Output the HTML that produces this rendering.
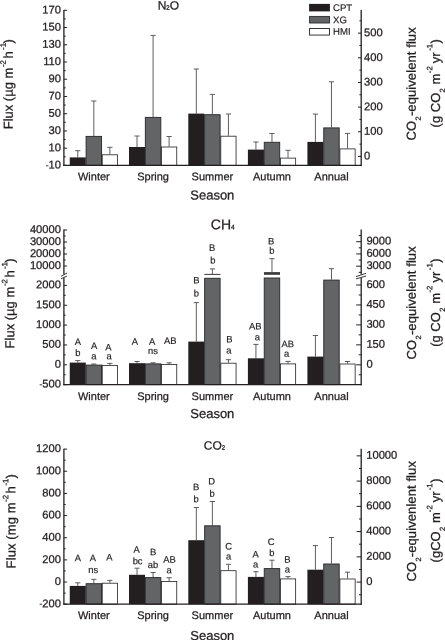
<!DOCTYPE html>
<html><head><meta charset="utf-8"><title>Flux by season</title>
<style>html,body{margin:0;padding:0;background:#fff;}body{width:445px;height:640px;overflow:hidden;font-family:"Liberation Sans", sans-serif;}svg{display:block;will-change:transform;}</style>
</head><body>
<svg width="445" height="640" viewBox="0 0 445 640" font-family='"Liberation Sans", sans-serif' fill="#231f20"><style>text{stroke:#231f20;stroke-width:0.26px;}text.s{stroke-width:0.18px;}</style>
<rect x="0.00" y="0.00" width="445.00" height="640.00" fill="#ffffff"/>
<line x1="77.78" y1="157.40" x2="77.78" y2="150.70" stroke="#4d4d4f" stroke-width="0.9"/>
<line x1="75.18" y1="150.70" x2="80.38" y2="150.70" stroke="#4d4d4f" stroke-width="0.9"/>
<rect x="69.75" y="157.40" width="16.05" height="8.00" fill="#231f20"/>
<line x1="93.83" y1="136.00" x2="93.83" y2="101.00" stroke="#4d4d4f" stroke-width="0.9"/>
<line x1="91.23" y1="101.00" x2="96.42" y2="101.00" stroke="#4d4d4f" stroke-width="0.9"/>
<rect x="86.10" y="136.40" width="15.45" height="29.00" fill="#636466" stroke="#2b2b2d" stroke-width="0.95"/>
<line x1="109.88" y1="154.40" x2="109.88" y2="147.30" stroke="#4d4d4f" stroke-width="0.9"/>
<line x1="107.28" y1="147.30" x2="112.47" y2="147.30" stroke="#4d4d4f" stroke-width="0.9"/>
<rect x="102.25" y="154.80" width="15.25" height="10.60" fill="#ffffff" stroke="#231f20" stroke-width="0.8"/>
<line x1="137.03" y1="147.00" x2="137.03" y2="136.00" stroke="#4d4d4f" stroke-width="0.9"/>
<line x1="134.43" y1="136.00" x2="139.62" y2="136.00" stroke="#4d4d4f" stroke-width="0.9"/>
<rect x="129.00" y="147.00" width="16.05" height="18.40" fill="#231f20"/>
<line x1="153.08" y1="117.00" x2="153.08" y2="35.40" stroke="#4d4d4f" stroke-width="0.9"/>
<line x1="150.48" y1="35.40" x2="155.68" y2="35.40" stroke="#4d4d4f" stroke-width="0.9"/>
<rect x="145.35" y="117.40" width="15.45" height="48.00" fill="#636466" stroke="#2b2b2d" stroke-width="0.95"/>
<line x1="169.12" y1="146.60" x2="169.12" y2="136.50" stroke="#4d4d4f" stroke-width="0.9"/>
<line x1="166.53" y1="136.50" x2="171.72" y2="136.50" stroke="#4d4d4f" stroke-width="0.9"/>
<rect x="161.50" y="147.00" width="15.25" height="18.40" fill="#ffffff" stroke="#231f20" stroke-width="0.8"/>
<line x1="196.33" y1="113.60" x2="196.33" y2="69.00" stroke="#4d4d4f" stroke-width="0.9"/>
<line x1="193.73" y1="69.00" x2="198.93" y2="69.00" stroke="#4d4d4f" stroke-width="0.9"/>
<rect x="188.30" y="113.60" width="16.05" height="51.80" fill="#231f20"/>
<line x1="212.38" y1="114.30" x2="212.38" y2="94.40" stroke="#4d4d4f" stroke-width="0.9"/>
<line x1="209.78" y1="94.40" x2="214.98" y2="94.40" stroke="#4d4d4f" stroke-width="0.9"/>
<rect x="204.65" y="114.70" width="15.45" height="50.70" fill="#636466" stroke="#2b2b2d" stroke-width="0.95"/>
<line x1="228.43" y1="135.80" x2="228.43" y2="114.00" stroke="#4d4d4f" stroke-width="0.9"/>
<line x1="225.83" y1="114.00" x2="231.03" y2="114.00" stroke="#4d4d4f" stroke-width="0.9"/>
<rect x="220.80" y="136.20" width="15.25" height="29.20" fill="#ffffff" stroke="#231f20" stroke-width="0.8"/>
<line x1="255.93" y1="149.60" x2="255.93" y2="142.00" stroke="#4d4d4f" stroke-width="0.9"/>
<line x1="253.33" y1="142.00" x2="258.53" y2="142.00" stroke="#4d4d4f" stroke-width="0.9"/>
<rect x="247.90" y="149.60" width="16.05" height="15.80" fill="#231f20"/>
<line x1="271.97" y1="141.90" x2="271.97" y2="133.50" stroke="#4d4d4f" stroke-width="0.9"/>
<line x1="269.37" y1="133.50" x2="274.57" y2="133.50" stroke="#4d4d4f" stroke-width="0.9"/>
<rect x="264.25" y="142.30" width="15.45" height="23.10" fill="#636466" stroke="#2b2b2d" stroke-width="0.95"/>
<line x1="288.02" y1="157.70" x2="288.02" y2="150.30" stroke="#4d4d4f" stroke-width="0.9"/>
<line x1="285.42" y1="150.30" x2="290.62" y2="150.30" stroke="#4d4d4f" stroke-width="0.9"/>
<rect x="280.40" y="158.10" width="15.25" height="7.30" fill="#ffffff" stroke="#231f20" stroke-width="0.8"/>
<line x1="315.42" y1="141.90" x2="315.42" y2="114.10" stroke="#4d4d4f" stroke-width="0.9"/>
<line x1="312.82" y1="114.10" x2="318.02" y2="114.10" stroke="#4d4d4f" stroke-width="0.9"/>
<rect x="307.40" y="141.90" width="16.05" height="23.50" fill="#231f20"/>
<line x1="331.47" y1="127.50" x2="331.47" y2="81.80" stroke="#4d4d4f" stroke-width="0.9"/>
<line x1="328.87" y1="81.80" x2="334.07" y2="81.80" stroke="#4d4d4f" stroke-width="0.9"/>
<rect x="323.75" y="127.90" width="15.45" height="37.50" fill="#636466" stroke="#2b2b2d" stroke-width="0.95"/>
<line x1="347.52" y1="148.50" x2="347.52" y2="133.40" stroke="#4d4d4f" stroke-width="0.9"/>
<line x1="344.92" y1="133.40" x2="350.12" y2="133.40" stroke="#4d4d4f" stroke-width="0.9"/>
<rect x="339.90" y="148.90" width="15.25" height="16.50" fill="#ffffff" stroke="#231f20" stroke-width="0.8"/>
<line x1="63.90" y1="10.00" x2="63.90" y2="166.00" stroke="#231f20" stroke-width="1.3"/>
<line x1="361.20" y1="10.00" x2="361.20" y2="166.00" stroke="#231f20" stroke-width="1.3"/>
<line x1="63.30" y1="165.40" x2="361.80" y2="165.40" stroke="#231f20" stroke-width="1.3"/>
<line x1="63.90" y1="10.30" x2="67.10" y2="10.30" stroke="#231f20" stroke-width="1"/>
<text transform="translate(61.00,13.40) rotate(0.03)" font-size="11.2" text-anchor="end" >170</text>
<line x1="63.90" y1="27.53" x2="67.10" y2="27.53" stroke="#231f20" stroke-width="1"/>
<text transform="translate(61.00,30.63) rotate(0.03)" font-size="11.2" text-anchor="end" >150</text>
<line x1="63.90" y1="44.77" x2="67.10" y2="44.77" stroke="#231f20" stroke-width="1"/>
<text transform="translate(61.00,47.87) rotate(0.03)" font-size="11.2" text-anchor="end" >130</text>
<line x1="63.90" y1="62.00" x2="67.10" y2="62.00" stroke="#231f20" stroke-width="1"/>
<text transform="translate(61.00,65.10) rotate(0.03)" font-size="11.2" text-anchor="end" >110</text>
<line x1="63.90" y1="79.23" x2="67.10" y2="79.23" stroke="#231f20" stroke-width="1"/>
<text transform="translate(61.00,82.33) rotate(0.03)" font-size="11.2" text-anchor="end" >90</text>
<line x1="63.90" y1="96.47" x2="67.10" y2="96.47" stroke="#231f20" stroke-width="1"/>
<text transform="translate(61.00,99.57) rotate(0.03)" font-size="11.2" text-anchor="end" >70</text>
<line x1="63.90" y1="113.70" x2="67.10" y2="113.70" stroke="#231f20" stroke-width="1"/>
<text transform="translate(61.00,116.80) rotate(0.03)" font-size="11.2" text-anchor="end" >50</text>
<line x1="63.90" y1="130.93" x2="67.10" y2="130.93" stroke="#231f20" stroke-width="1"/>
<text transform="translate(61.00,134.03) rotate(0.03)" font-size="11.2" text-anchor="end" >30</text>
<line x1="63.90" y1="148.17" x2="67.10" y2="148.17" stroke="#231f20" stroke-width="1"/>
<text transform="translate(61.00,151.27) rotate(0.03)" font-size="11.2" text-anchor="end" >10</text>
<line x1="63.90" y1="165.40" x2="67.10" y2="165.40" stroke="#231f20" stroke-width="1"/>
<text transform="translate(61.00,168.50) rotate(0.03)" font-size="11.2" text-anchor="end" ><tspan font-size="8.5" dy="-0.6">-</tspan><tspan dy="0.6">10</tspan></text>
<line x1="63.90" y1="18.92" x2="65.70" y2="18.92" stroke="#231f20" stroke-width="1"/>
<line x1="63.90" y1="36.15" x2="65.70" y2="36.15" stroke="#231f20" stroke-width="1"/>
<line x1="63.90" y1="53.38" x2="65.70" y2="53.38" stroke="#231f20" stroke-width="1"/>
<line x1="63.90" y1="70.62" x2="65.70" y2="70.62" stroke="#231f20" stroke-width="1"/>
<line x1="63.90" y1="87.85" x2="65.70" y2="87.85" stroke="#231f20" stroke-width="1"/>
<line x1="63.90" y1="105.08" x2="65.70" y2="105.08" stroke="#231f20" stroke-width="1"/>
<line x1="63.90" y1="122.32" x2="65.70" y2="122.32" stroke="#231f20" stroke-width="1"/>
<line x1="63.90" y1="139.55" x2="65.70" y2="139.55" stroke="#231f20" stroke-width="1"/>
<line x1="63.90" y1="156.78" x2="65.70" y2="156.78" stroke="#231f20" stroke-width="1"/>
<line x1="358.00" y1="156.40" x2="361.20" y2="156.40" stroke="#231f20" stroke-width="1"/>
<text transform="translate(364.00,159.50) rotate(0.03)" font-size="11.2" text-anchor="start" >0</text>
<line x1="358.00" y1="131.75" x2="361.20" y2="131.75" stroke="#231f20" stroke-width="1"/>
<text transform="translate(364.00,134.85) rotate(0.03)" font-size="11.2" text-anchor="start" >100</text>
<line x1="358.00" y1="107.10" x2="361.20" y2="107.10" stroke="#231f20" stroke-width="1"/>
<text transform="translate(364.00,110.20) rotate(0.03)" font-size="11.2" text-anchor="start" >200</text>
<line x1="358.00" y1="82.45" x2="361.20" y2="82.45" stroke="#231f20" stroke-width="1"/>
<text transform="translate(364.00,85.55) rotate(0.03)" font-size="11.2" text-anchor="start" >300</text>
<line x1="358.00" y1="57.80" x2="361.20" y2="57.80" stroke="#231f20" stroke-width="1"/>
<text transform="translate(364.00,60.90) rotate(0.03)" font-size="11.2" text-anchor="start" >400</text>
<line x1="358.00" y1="33.15" x2="361.20" y2="33.15" stroke="#231f20" stroke-width="1"/>
<text transform="translate(364.00,36.25) rotate(0.03)" font-size="11.2" text-anchor="start" >500</text>
<line x1="359.40" y1="144.08" x2="361.20" y2="144.08" stroke="#231f20" stroke-width="1"/>
<line x1="359.40" y1="119.43" x2="361.20" y2="119.43" stroke="#231f20" stroke-width="1"/>
<line x1="359.40" y1="94.78" x2="361.20" y2="94.78" stroke="#231f20" stroke-width="1"/>
<line x1="359.40" y1="70.13" x2="361.20" y2="70.13" stroke="#231f20" stroke-width="1"/>
<line x1="359.40" y1="45.48" x2="361.20" y2="45.48" stroke="#231f20" stroke-width="1"/>
<line x1="359.40" y1="20.83" x2="361.20" y2="20.83" stroke="#231f20" stroke-width="1"/>
<text transform="translate(93.83,180.30) rotate(0.03)" font-size="11" text-anchor="middle" >Winter</text>
<text transform="translate(153.07,180.30) rotate(0.03)" font-size="11" text-anchor="middle" >Spring</text>
<text transform="translate(212.38,180.30) rotate(0.03)" font-size="11" text-anchor="middle" >Summer</text>
<text transform="translate(271.98,180.30) rotate(0.03)" font-size="11" text-anchor="middle" >Autumn</text>
<text transform="translate(331.47,180.30) rotate(0.03)" font-size="11" text-anchor="middle" >Annual</text>
<text transform="translate(212.30,199.60) rotate(0.03)" font-size="13" text-anchor="middle" >Season</text>
<text transform="translate(168.30,9.60) rotate(0.03)" font-size="12" text-anchor="middle" >N<tspan font-size="6">2</tspan>O</text>
<g transform="translate(12.70,129.30) rotate(-90.03)"><text x="0.00" y="0.00" font-size="13">Flux (µg m</text><text x="62.30" y="-7.00" font-size="7.8">-2</text><text x="70.80" y="0.00" font-size="13">h</text><text x="79.40" y="-7.00" font-size="7.8">-1</text><text x="85.70" y="0.00" font-size="13">)</text></g>
<g transform="translate(415.80,140.40) rotate(-90.03)"><text x="0.00" y="0.00" font-size="13" letter-spacing="0.09">CO</text><text x="19.90" y="5.00" font-size="7.5">2</text><text x="24.30" y="0.00" font-size="13" letter-spacing="0.09">-equivelent flux</text></g>
<g transform="translate(440.00,127.40) rotate(-90.03)"><text x="0.00" y="0.00" font-size="13">(g CO</text><text x="35.00" y="5.00" font-size="7.5">2</text><text x="43.00" y="0.00" font-size="13">m</text><text x="54.20" y="-7.80" font-size="7.8">-2</text><text x="64.20" y="0.00" font-size="13">yr</text><text x="76.60" y="-7.80" font-size="7.8">-1</text><text x="84.00" y="0.00" font-size="13">)</text></g>
<rect x="309.10" y="3.90" width="20.80" height="7.50" fill="#231f20"/>
<text transform="translate(333.00,11.00) rotate(0.03)" font-size="9.6" text-anchor="start" class="s">CPT</text>
<rect x="309.60" y="16.40" width="19.90" height="6.60" fill="#636466" stroke="#2b2b2d" stroke-width="0.9"/>
<text transform="translate(333.00,23.20) rotate(0.03)" font-size="9.6" text-anchor="start" class="s">XG</text>
<rect x="309.60" y="28.45" width="19.90" height="6.60" fill="#fff" stroke="#231f20" stroke-width="0.9"/>
<text transform="translate(333.00,34.70) rotate(0.03)" font-size="9.6" text-anchor="start" class="s">HMI</text>
<line x1="77.78" y1="362.60" x2="77.78" y2="360.60" stroke="#4d4d4f" stroke-width="0.9"/>
<line x1="75.18" y1="360.60" x2="80.38" y2="360.60" stroke="#4d4d4f" stroke-width="0.9"/>
<rect x="69.75" y="362.60" width="16.05" height="22.00" fill="#231f20"/>
<line x1="93.83" y1="364.70" x2="93.83" y2="364.00" stroke="#4d4d4f" stroke-width="0.9"/>
<line x1="91.23" y1="364.00" x2="96.42" y2="364.00" stroke="#4d4d4f" stroke-width="0.9"/>
<rect x="86.10" y="365.10" width="15.45" height="19.50" fill="#636466" stroke="#2b2b2d" stroke-width="0.95"/>
<line x1="109.88" y1="365.00" x2="109.88" y2="363.40" stroke="#4d4d4f" stroke-width="0.9"/>
<line x1="107.28" y1="363.40" x2="112.47" y2="363.40" stroke="#4d4d4f" stroke-width="0.9"/>
<rect x="102.25" y="365.40" width="15.25" height="19.20" fill="#ffffff" stroke="#231f20" stroke-width="0.8"/>
<line x1="137.03" y1="363.20" x2="137.03" y2="361.50" stroke="#4d4d4f" stroke-width="0.9"/>
<line x1="134.43" y1="361.50" x2="139.62" y2="361.50" stroke="#4d4d4f" stroke-width="0.9"/>
<rect x="129.00" y="363.20" width="16.05" height="21.40" fill="#231f20"/>
<line x1="153.08" y1="363.50" x2="153.08" y2="362.80" stroke="#4d4d4f" stroke-width="0.9"/>
<line x1="150.48" y1="362.80" x2="155.68" y2="362.80" stroke="#4d4d4f" stroke-width="0.9"/>
<rect x="145.35" y="363.90" width="15.45" height="20.70" fill="#636466" stroke="#2b2b2d" stroke-width="0.95"/>
<line x1="169.12" y1="364.00" x2="169.12" y2="362.80" stroke="#4d4d4f" stroke-width="0.9"/>
<line x1="166.53" y1="362.80" x2="171.72" y2="362.80" stroke="#4d4d4f" stroke-width="0.9"/>
<rect x="161.50" y="364.40" width="15.25" height="20.20" fill="#ffffff" stroke="#231f20" stroke-width="0.8"/>
<line x1="196.33" y1="341.60" x2="196.33" y2="302.60" stroke="#4d4d4f" stroke-width="0.9"/>
<line x1="193.73" y1="302.60" x2="198.93" y2="302.60" stroke="#4d4d4f" stroke-width="0.9"/>
<rect x="188.30" y="341.60" width="16.05" height="43.00" fill="#231f20"/>
<rect x="204.65" y="278.30" width="15.45" height="106.30" fill="#636466" stroke="#2b2b2d" stroke-width="0.95"/>
<line x1="228.43" y1="362.80" x2="228.43" y2="359.70" stroke="#4d4d4f" stroke-width="0.9"/>
<line x1="225.83" y1="359.70" x2="231.03" y2="359.70" stroke="#4d4d4f" stroke-width="0.9"/>
<rect x="220.80" y="363.20" width="15.25" height="21.40" fill="#ffffff" stroke="#231f20" stroke-width="0.8"/>
<line x1="255.93" y1="358.30" x2="255.93" y2="344.40" stroke="#4d4d4f" stroke-width="0.9"/>
<line x1="253.33" y1="344.40" x2="258.53" y2="344.40" stroke="#4d4d4f" stroke-width="0.9"/>
<rect x="247.90" y="358.30" width="16.05" height="26.30" fill="#231f20"/>
<rect x="264.25" y="278.00" width="15.45" height="106.60" fill="#636466" stroke="#2b2b2d" stroke-width="0.95"/>
<line x1="288.02" y1="363.50" x2="288.02" y2="361.40" stroke="#4d4d4f" stroke-width="0.9"/>
<line x1="285.42" y1="361.40" x2="290.62" y2="361.40" stroke="#4d4d4f" stroke-width="0.9"/>
<rect x="280.40" y="363.90" width="15.25" height="20.70" fill="#ffffff" stroke="#231f20" stroke-width="0.8"/>
<line x1="315.42" y1="356.60" x2="315.42" y2="335.50" stroke="#4d4d4f" stroke-width="0.9"/>
<line x1="312.82" y1="335.50" x2="318.02" y2="335.50" stroke="#4d4d4f" stroke-width="0.9"/>
<rect x="307.40" y="356.60" width="16.05" height="28.00" fill="#231f20"/>
<line x1="331.47" y1="279.70" x2="331.47" y2="268.70" stroke="#4d4d4f" stroke-width="0.9"/>
<line x1="328.87" y1="268.70" x2="334.07" y2="268.70" stroke="#4d4d4f" stroke-width="0.9"/>
<rect x="323.75" y="280.10" width="15.45" height="104.50" fill="#636466" stroke="#2b2b2d" stroke-width="0.95"/>
<line x1="347.52" y1="363.60" x2="347.52" y2="361.50" stroke="#4d4d4f" stroke-width="0.9"/>
<line x1="344.92" y1="361.50" x2="350.12" y2="361.50" stroke="#4d4d4f" stroke-width="0.9"/>
<rect x="339.90" y="364.00" width="15.25" height="20.60" fill="#ffffff" stroke="#231f20" stroke-width="0.8"/>
<line x1="204.35" y1="274.40" x2="220.40" y2="274.40" stroke="#231f20" stroke-width="0.9"/>
<line x1="212.38" y1="274.40" x2="212.38" y2="268.90" stroke="#4d4d4f" stroke-width="0.9"/>
<line x1="209.78" y1="268.90" x2="214.98" y2="268.90" stroke="#4d4d4f" stroke-width="0.9"/>
<line x1="263.95" y1="273.45" x2="280.00" y2="273.45" stroke="#3a3a3c" stroke-width="2.7"/>
<line x1="271.97" y1="273.45" x2="271.97" y2="258.70" stroke="#4d4d4f" stroke-width="0.9"/>
<line x1="269.37" y1="258.70" x2="274.57" y2="258.70" stroke="#4d4d4f" stroke-width="0.9"/>
<line x1="63.90" y1="229.40" x2="63.90" y2="385.20" stroke="#231f20" stroke-width="1.3"/>
<line x1="361.20" y1="229.40" x2="361.20" y2="385.20" stroke="#231f20" stroke-width="1.3"/>
<line x1="63.30" y1="384.60" x2="361.80" y2="384.60" stroke="#231f20" stroke-width="1.3"/>
<rect x="61.90" y="274.40" width="4.00" height="3.20" fill="#fff"/>
<line x1="61.00" y1="276.40" x2="67.00" y2="273.00" stroke="#231f20" stroke-width="0.9"/>
<line x1="61.00" y1="278.80" x2="67.00" y2="276.10" stroke="#231f20" stroke-width="0.9"/>
<rect x="359.20" y="274.40" width="4.00" height="3.40" fill="#fff"/>
<line x1="356.00" y1="276.60" x2="366.10" y2="273.30" stroke="#231f20" stroke-width="0.9"/>
<line x1="356.00" y1="278.90" x2="366.10" y2="276.00" stroke="#231f20" stroke-width="0.9"/>
<line x1="63.90" y1="384.65" x2="67.10" y2="384.65" stroke="#231f20" stroke-width="1"/>
<text transform="translate(61.00,387.55) rotate(0.03)" font-size="11.2" text-anchor="end" ><tspan font-size="8.5" dy="-0.6">-</tspan><tspan dy="0.6">500</tspan></text>
<line x1="63.90" y1="364.80" x2="67.10" y2="364.80" stroke="#231f20" stroke-width="1"/>
<text transform="translate(61.00,367.70) rotate(0.03)" font-size="11.2" text-anchor="end" >0</text>
<line x1="63.90" y1="344.95" x2="67.10" y2="344.95" stroke="#231f20" stroke-width="1"/>
<text transform="translate(61.00,347.85) rotate(0.03)" font-size="11.2" text-anchor="end" >500</text>
<line x1="63.90" y1="325.10" x2="67.10" y2="325.10" stroke="#231f20" stroke-width="1"/>
<text transform="translate(61.00,328.00) rotate(0.03)" font-size="11.2" text-anchor="end" >1000</text>
<line x1="63.90" y1="305.25" x2="67.10" y2="305.25" stroke="#231f20" stroke-width="1"/>
<text transform="translate(61.00,308.15) rotate(0.03)" font-size="11.2" text-anchor="end" >1500</text>
<line x1="63.90" y1="285.40" x2="67.10" y2="285.40" stroke="#231f20" stroke-width="1"/>
<text transform="translate(61.00,288.30) rotate(0.03)" font-size="11.2" text-anchor="end" >2000</text>
<line x1="63.90" y1="266.00" x2="67.10" y2="266.00" stroke="#231f20" stroke-width="1"/>
<text transform="translate(61.00,268.90) rotate(0.03)" font-size="11.2" text-anchor="end" >10000</text>
<line x1="63.90" y1="254.00" x2="67.10" y2="254.00" stroke="#231f20" stroke-width="1"/>
<text transform="translate(61.00,256.90) rotate(0.03)" font-size="11.2" text-anchor="end" >20000</text>
<line x1="63.90" y1="242.00" x2="67.10" y2="242.00" stroke="#231f20" stroke-width="1"/>
<text transform="translate(61.00,244.90) rotate(0.03)" font-size="11.2" text-anchor="end" >30000</text>
<line x1="63.90" y1="230.00" x2="67.10" y2="230.00" stroke="#231f20" stroke-width="1"/>
<text transform="translate(61.00,232.90) rotate(0.03)" font-size="11.2" text-anchor="end" >40000</text>
<line x1="63.90" y1="374.73" x2="65.70" y2="374.73" stroke="#231f20" stroke-width="1"/>
<line x1="63.90" y1="354.88" x2="65.70" y2="354.88" stroke="#231f20" stroke-width="1"/>
<line x1="63.90" y1="335.02" x2="65.70" y2="335.02" stroke="#231f20" stroke-width="1"/>
<line x1="63.90" y1="315.18" x2="65.70" y2="315.18" stroke="#231f20" stroke-width="1"/>
<line x1="63.90" y1="295.32" x2="65.70" y2="295.32" stroke="#231f20" stroke-width="1"/>
<line x1="63.90" y1="260.00" x2="65.70" y2="260.00" stroke="#231f20" stroke-width="1"/>
<line x1="63.90" y1="248.00" x2="65.70" y2="248.00" stroke="#231f20" stroke-width="1"/>
<line x1="63.90" y1="236.00" x2="65.70" y2="236.00" stroke="#231f20" stroke-width="1"/>
<line x1="356.20" y1="364.80" x2="361.20" y2="364.80" stroke="#231f20" stroke-width="1"/>
<text transform="translate(366.40,367.70) rotate(0.03)" font-size="11.2" text-anchor="start" >0</text>
<line x1="356.20" y1="344.85" x2="361.20" y2="344.85" stroke="#231f20" stroke-width="1"/>
<text transform="translate(366.40,347.75) rotate(0.03)" font-size="11.2" text-anchor="start" >150</text>
<line x1="356.20" y1="324.90" x2="361.20" y2="324.90" stroke="#231f20" stroke-width="1"/>
<text transform="translate(366.40,327.80) rotate(0.03)" font-size="11.2" text-anchor="start" >300</text>
<line x1="356.20" y1="304.95" x2="361.20" y2="304.95" stroke="#231f20" stroke-width="1"/>
<text transform="translate(366.40,307.85) rotate(0.03)" font-size="11.2" text-anchor="start" >450</text>
<line x1="356.20" y1="285.00" x2="361.20" y2="285.00" stroke="#231f20" stroke-width="1"/>
<text transform="translate(366.40,287.90) rotate(0.03)" font-size="11.2" text-anchor="start" >600</text>
<line x1="356.20" y1="266.20" x2="361.20" y2="266.20" stroke="#231f20" stroke-width="1"/>
<text transform="translate(366.40,269.10) rotate(0.03)" font-size="11.2" text-anchor="start" >3000</text>
<line x1="356.20" y1="253.95" x2="361.20" y2="253.95" stroke="#231f20" stroke-width="1"/>
<text transform="translate(366.40,256.85) rotate(0.03)" font-size="11.2" text-anchor="start" >6000</text>
<line x1="356.20" y1="241.70" x2="361.20" y2="241.70" stroke="#231f20" stroke-width="1"/>
<text transform="translate(366.40,244.60) rotate(0.03)" font-size="11.2" text-anchor="start" >9000</text>
<line x1="358.70" y1="374.78" x2="361.20" y2="374.78" stroke="#231f20" stroke-width="1"/>
<line x1="358.70" y1="354.82" x2="361.20" y2="354.82" stroke="#231f20" stroke-width="1"/>
<line x1="358.70" y1="334.88" x2="361.20" y2="334.88" stroke="#231f20" stroke-width="1"/>
<line x1="358.70" y1="314.93" x2="361.20" y2="314.93" stroke="#231f20" stroke-width="1"/>
<line x1="358.70" y1="294.98" x2="361.20" y2="294.98" stroke="#231f20" stroke-width="1"/>
<line x1="358.70" y1="272.32" x2="361.20" y2="272.32" stroke="#231f20" stroke-width="1"/>
<line x1="358.70" y1="260.07" x2="361.20" y2="260.07" stroke="#231f20" stroke-width="1"/>
<line x1="358.70" y1="247.82" x2="361.20" y2="247.82" stroke="#231f20" stroke-width="1"/>
<line x1="358.70" y1="235.57" x2="361.20" y2="235.57" stroke="#231f20" stroke-width="1"/>
<text transform="translate(93.83,399.90) rotate(0.03)" font-size="11" text-anchor="middle" >Winter</text>
<text transform="translate(153.07,399.90) rotate(0.03)" font-size="11" text-anchor="middle" >Spring</text>
<text transform="translate(212.38,399.90) rotate(0.03)" font-size="11" text-anchor="middle" >Summer</text>
<text transform="translate(271.98,399.90) rotate(0.03)" font-size="11" text-anchor="middle" >Autumn</text>
<text transform="translate(331.47,399.90) rotate(0.03)" font-size="11" text-anchor="middle" >Annual</text>
<text transform="translate(212.30,418.00) rotate(0.03)" font-size="13" text-anchor="middle" >Season</text>
<text transform="translate(222.70,229.30) rotate(0.03)" font-size="14" text-anchor="middle" >CH<tspan font-size="6.5">4</tspan></text>
<g transform="translate(14.25,348.40) rotate(-90.03)"><text x="0.00" y="0.00" font-size="13">Flux (µg m</text><text x="62.30" y="-7.00" font-size="7.8">-2</text><text x="70.80" y="0.00" font-size="13">h</text><text x="79.40" y="-7.00" font-size="7.8">-1</text><text x="85.70" y="0.00" font-size="13">)</text></g>
<g transform="translate(415.90,359.40) rotate(-90.03)"><text x="0.00" y="0.00" font-size="13" letter-spacing="0.09">CO</text><text x="19.90" y="5.00" font-size="7.5">2</text><text x="24.30" y="0.00" font-size="13" letter-spacing="0.09">-equivelent flux</text></g>
<g transform="translate(440.10,346.80) rotate(-90.03)"><text x="0.00" y="0.00" font-size="13">(g CO</text><text x="35.00" y="5.00" font-size="7.5">2</text><text x="43.00" y="0.00" font-size="13">m</text><text x="54.20" y="-7.80" font-size="7.8">-2</text><text x="64.20" y="0.00" font-size="13">yr</text><text x="76.60" y="-7.80" font-size="7.8">-1</text><text x="84.00" y="0.00" font-size="13">)</text></g>
<text transform="translate(77.90,345.10) rotate(0.03)" font-size="9.4" text-anchor="middle" class="s">A</text>
<text transform="translate(77.80,356.10) rotate(0.03)" font-size="9.4" text-anchor="middle" class="s">b</text>
<text transform="translate(94.10,348.90) rotate(0.03)" font-size="9.4" text-anchor="middle" class="s">A</text>
<text transform="translate(93.90,359.30) rotate(0.03)" font-size="9.4" text-anchor="middle" class="s">a</text>
<text transform="translate(108.30,350.50) rotate(0.03)" font-size="9.4" text-anchor="middle" class="s">A</text>
<text transform="translate(109.00,359.30) rotate(0.03)" font-size="9.4" text-anchor="middle" class="s">a</text>
<text transform="translate(134.80,344.70) rotate(0.03)" font-size="9.4" text-anchor="middle" class="s">A</text>
<text transform="translate(152.20,344.70) rotate(0.03)" font-size="9.4" text-anchor="middle" class="s">A</text>
<text transform="translate(152.90,354.10) rotate(0.03)" font-size="9.4" text-anchor="middle" class="s">ns</text>
<text transform="translate(170.20,343.90) rotate(0.03)" font-size="9.4" text-anchor="middle" class="s">AB</text>
<text transform="translate(196.40,283.40) rotate(0.03)" font-size="9.4" text-anchor="middle" class="s">B</text>
<text transform="translate(196.40,296.40) rotate(0.03)" font-size="9.4" text-anchor="middle" class="s">b</text>
<text transform="translate(212.00,251.00) rotate(0.03)" font-size="9.4" text-anchor="middle" class="s">B</text>
<text transform="translate(212.80,263.60) rotate(0.03)" font-size="9.4" text-anchor="middle" class="s">b</text>
<text transform="translate(229.30,342.40) rotate(0.03)" font-size="9.4" text-anchor="middle" class="s">B</text>
<text transform="translate(228.80,353.40) rotate(0.03)" font-size="9.4" text-anchor="middle" class="s">a</text>
<text transform="translate(255.30,329.40) rotate(0.03)" font-size="9.4" text-anchor="middle" class="s">AB</text>
<text transform="translate(257.30,340.20) rotate(0.03)" font-size="9.4" text-anchor="middle" class="s">a</text>
<text transform="translate(271.20,244.60) rotate(0.03)" font-size="9.4" text-anchor="middle" class="s">B</text>
<text transform="translate(271.90,253.70) rotate(0.03)" font-size="9.4" text-anchor="middle" class="s">b</text>
<text transform="translate(287.70,347.20) rotate(0.03)" font-size="9.4" text-anchor="middle" class="s">AB</text>
<text transform="translate(286.70,356.70) rotate(0.03)" font-size="9.4" text-anchor="middle" class="s">a</text>
<line x1="77.78" y1="585.90" x2="77.78" y2="582.80" stroke="#4d4d4f" stroke-width="0.9"/>
<line x1="75.18" y1="582.80" x2="80.38" y2="582.80" stroke="#4d4d4f" stroke-width="0.9"/>
<rect x="69.75" y="585.90" width="16.05" height="18.30" fill="#231f20"/>
<line x1="93.83" y1="583.30" x2="93.83" y2="579.30" stroke="#4d4d4f" stroke-width="0.9"/>
<line x1="91.23" y1="579.30" x2="96.42" y2="579.30" stroke="#4d4d4f" stroke-width="0.9"/>
<rect x="86.10" y="583.70" width="15.45" height="20.50" fill="#636466" stroke="#2b2b2d" stroke-width="0.95"/>
<line x1="109.88" y1="582.80" x2="109.88" y2="580.40" stroke="#4d4d4f" stroke-width="0.9"/>
<line x1="107.28" y1="580.40" x2="112.47" y2="580.40" stroke="#4d4d4f" stroke-width="0.9"/>
<rect x="102.25" y="583.20" width="15.25" height="21.00" fill="#ffffff" stroke="#231f20" stroke-width="0.8"/>
<line x1="137.03" y1="574.80" x2="137.03" y2="568.20" stroke="#4d4d4f" stroke-width="0.9"/>
<line x1="134.43" y1="568.20" x2="139.62" y2="568.20" stroke="#4d4d4f" stroke-width="0.9"/>
<rect x="129.00" y="574.80" width="16.05" height="29.40" fill="#231f20"/>
<line x1="153.08" y1="577.20" x2="153.08" y2="572.50" stroke="#4d4d4f" stroke-width="0.9"/>
<line x1="150.48" y1="572.50" x2="155.68" y2="572.50" stroke="#4d4d4f" stroke-width="0.9"/>
<rect x="145.35" y="577.60" width="15.45" height="26.60" fill="#636466" stroke="#2b2b2d" stroke-width="0.95"/>
<line x1="169.12" y1="581.10" x2="169.12" y2="577.70" stroke="#4d4d4f" stroke-width="0.9"/>
<line x1="166.53" y1="577.70" x2="171.72" y2="577.70" stroke="#4d4d4f" stroke-width="0.9"/>
<rect x="161.50" y="581.50" width="15.25" height="22.70" fill="#ffffff" stroke="#231f20" stroke-width="0.8"/>
<line x1="196.33" y1="540.20" x2="196.33" y2="507.50" stroke="#4d4d4f" stroke-width="0.9"/>
<line x1="193.73" y1="507.50" x2="198.93" y2="507.50" stroke="#4d4d4f" stroke-width="0.9"/>
<rect x="188.30" y="540.20" width="16.05" height="64.00" fill="#231f20"/>
<line x1="212.38" y1="525.40" x2="212.38" y2="501.50" stroke="#4d4d4f" stroke-width="0.9"/>
<line x1="209.78" y1="501.50" x2="214.98" y2="501.50" stroke="#4d4d4f" stroke-width="0.9"/>
<rect x="204.65" y="525.80" width="15.45" height="78.40" fill="#636466" stroke="#2b2b2d" stroke-width="0.95"/>
<line x1="228.43" y1="570.30" x2="228.43" y2="564.30" stroke="#4d4d4f" stroke-width="0.9"/>
<line x1="225.83" y1="564.30" x2="231.03" y2="564.30" stroke="#4d4d4f" stroke-width="0.9"/>
<rect x="220.80" y="570.70" width="15.25" height="33.50" fill="#ffffff" stroke="#231f20" stroke-width="0.8"/>
<line x1="255.93" y1="576.90" x2="255.93" y2="571.70" stroke="#4d4d4f" stroke-width="0.9"/>
<line x1="253.33" y1="571.70" x2="258.53" y2="571.70" stroke="#4d4d4f" stroke-width="0.9"/>
<rect x="247.90" y="576.90" width="16.05" height="27.30" fill="#231f20"/>
<line x1="271.97" y1="568.20" x2="271.97" y2="560.20" stroke="#4d4d4f" stroke-width="0.9"/>
<line x1="269.37" y1="560.20" x2="274.57" y2="560.20" stroke="#4d4d4f" stroke-width="0.9"/>
<rect x="264.25" y="568.60" width="15.45" height="35.60" fill="#636466" stroke="#2b2b2d" stroke-width="0.95"/>
<line x1="288.02" y1="578.50" x2="288.02" y2="576.60" stroke="#4d4d4f" stroke-width="0.9"/>
<line x1="285.42" y1="576.60" x2="290.62" y2="576.60" stroke="#4d4d4f" stroke-width="0.9"/>
<rect x="280.40" y="578.90" width="15.25" height="25.30" fill="#ffffff" stroke="#231f20" stroke-width="0.8"/>
<line x1="315.42" y1="569.70" x2="315.42" y2="545.60" stroke="#4d4d4f" stroke-width="0.9"/>
<line x1="312.82" y1="545.60" x2="318.02" y2="545.60" stroke="#4d4d4f" stroke-width="0.9"/>
<rect x="307.40" y="569.70" width="16.05" height="34.50" fill="#231f20"/>
<line x1="331.47" y1="563.60" x2="331.47" y2="537.50" stroke="#4d4d4f" stroke-width="0.9"/>
<line x1="328.87" y1="537.50" x2="334.07" y2="537.50" stroke="#4d4d4f" stroke-width="0.9"/>
<rect x="323.75" y="564.00" width="15.45" height="40.20" fill="#636466" stroke="#2b2b2d" stroke-width="0.95"/>
<line x1="347.52" y1="578.60" x2="347.52" y2="572.20" stroke="#4d4d4f" stroke-width="0.9"/>
<line x1="344.92" y1="572.20" x2="350.12" y2="572.20" stroke="#4d4d4f" stroke-width="0.9"/>
<rect x="339.90" y="579.00" width="15.25" height="25.20" fill="#ffffff" stroke="#231f20" stroke-width="0.8"/>
<line x1="63.90" y1="448.80" x2="63.90" y2="604.80" stroke="#231f20" stroke-width="1.3"/>
<line x1="361.20" y1="448.80" x2="361.20" y2="604.80" stroke="#231f20" stroke-width="1.3"/>
<line x1="63.30" y1="604.20" x2="361.80" y2="604.20" stroke="#231f20" stroke-width="1.3"/>
<line x1="63.90" y1="449.10" x2="67.10" y2="449.10" stroke="#231f20" stroke-width="1"/>
<text transform="translate(61.00,452.10) rotate(0.03)" font-size="11.2" text-anchor="end" >1200</text>
<line x1="63.90" y1="471.26" x2="67.10" y2="471.26" stroke="#231f20" stroke-width="1"/>
<text transform="translate(61.00,474.26) rotate(0.03)" font-size="11.2" text-anchor="end" >1000</text>
<line x1="63.90" y1="493.41" x2="67.10" y2="493.41" stroke="#231f20" stroke-width="1"/>
<text transform="translate(61.00,496.41) rotate(0.03)" font-size="11.2" text-anchor="end" >800</text>
<line x1="63.90" y1="515.57" x2="67.10" y2="515.57" stroke="#231f20" stroke-width="1"/>
<text transform="translate(61.00,518.57) rotate(0.03)" font-size="11.2" text-anchor="end" >600</text>
<line x1="63.90" y1="537.73" x2="67.10" y2="537.73" stroke="#231f20" stroke-width="1"/>
<text transform="translate(61.00,540.73) rotate(0.03)" font-size="11.2" text-anchor="end" >400</text>
<line x1="63.90" y1="559.89" x2="67.10" y2="559.89" stroke="#231f20" stroke-width="1"/>
<text transform="translate(61.00,562.89) rotate(0.03)" font-size="11.2" text-anchor="end" >200</text>
<line x1="63.90" y1="582.04" x2="67.10" y2="582.04" stroke="#231f20" stroke-width="1"/>
<text transform="translate(61.00,585.04) rotate(0.03)" font-size="11.2" text-anchor="end" >0</text>
<line x1="63.90" y1="604.20" x2="67.10" y2="604.20" stroke="#231f20" stroke-width="1"/>
<text transform="translate(61.00,607.20) rotate(0.03)" font-size="11.2" text-anchor="end" ><tspan font-size="8.5" dy="-0.6">-</tspan><tspan dy="0.6">200</tspan></text>
<line x1="63.90" y1="460.18" x2="65.70" y2="460.18" stroke="#231f20" stroke-width="1"/>
<line x1="63.90" y1="482.34" x2="65.70" y2="482.34" stroke="#231f20" stroke-width="1"/>
<line x1="63.90" y1="504.49" x2="65.70" y2="504.49" stroke="#231f20" stroke-width="1"/>
<line x1="63.90" y1="526.65" x2="65.70" y2="526.65" stroke="#231f20" stroke-width="1"/>
<line x1="63.90" y1="548.81" x2="65.70" y2="548.81" stroke="#231f20" stroke-width="1"/>
<line x1="63.90" y1="570.96" x2="65.70" y2="570.96" stroke="#231f20" stroke-width="1"/>
<line x1="63.90" y1="593.12" x2="65.70" y2="593.12" stroke="#231f20" stroke-width="1"/>
<line x1="356.60" y1="582.10" x2="361.20" y2="582.10" stroke="#231f20" stroke-width="1"/>
<text transform="translate(366.20,585.10) rotate(0.03)" font-size="11.2" text-anchor="start" >0</text>
<line x1="356.60" y1="556.85" x2="361.20" y2="556.85" stroke="#231f20" stroke-width="1"/>
<text transform="translate(366.20,559.85) rotate(0.03)" font-size="11.2" text-anchor="start" >2000</text>
<line x1="356.60" y1="531.60" x2="361.20" y2="531.60" stroke="#231f20" stroke-width="1"/>
<text transform="translate(366.20,534.60) rotate(0.03)" font-size="11.2" text-anchor="start" >4000</text>
<line x1="356.60" y1="506.35" x2="361.20" y2="506.35" stroke="#231f20" stroke-width="1"/>
<text transform="translate(366.20,509.35) rotate(0.03)" font-size="11.2" text-anchor="start" >6000</text>
<line x1="356.60" y1="481.10" x2="361.20" y2="481.10" stroke="#231f20" stroke-width="1"/>
<text transform="translate(366.20,484.10) rotate(0.03)" font-size="11.2" text-anchor="start" >8000</text>
<line x1="356.60" y1="455.85" x2="361.20" y2="455.85" stroke="#231f20" stroke-width="1"/>
<text transform="translate(366.20,458.85) rotate(0.03)" font-size="11.2" text-anchor="start" >10000</text>
<line x1="359.00" y1="594.73" x2="361.20" y2="594.73" stroke="#231f20" stroke-width="1"/>
<line x1="359.00" y1="569.48" x2="361.20" y2="569.48" stroke="#231f20" stroke-width="1"/>
<line x1="359.00" y1="544.23" x2="361.20" y2="544.23" stroke="#231f20" stroke-width="1"/>
<line x1="359.00" y1="518.98" x2="361.20" y2="518.98" stroke="#231f20" stroke-width="1"/>
<line x1="359.00" y1="493.73" x2="361.20" y2="493.73" stroke="#231f20" stroke-width="1"/>
<line x1="359.00" y1="468.48" x2="361.20" y2="468.48" stroke="#231f20" stroke-width="1"/>
<text transform="translate(93.83,619.10) rotate(0.03)" font-size="11" text-anchor="middle" >Winter</text>
<text transform="translate(153.07,619.10) rotate(0.03)" font-size="11" text-anchor="middle" >Spring</text>
<text transform="translate(212.38,619.10) rotate(0.03)" font-size="11" text-anchor="middle" >Summer</text>
<text transform="translate(271.98,619.10) rotate(0.03)" font-size="11" text-anchor="middle" >Autumn</text>
<text transform="translate(331.47,619.10) rotate(0.03)" font-size="11" text-anchor="middle" >Annual</text>
<text transform="translate(212.30,640.10) rotate(0.03)" font-size="13" text-anchor="middle" >Season</text>
<text transform="translate(214.50,449.60) rotate(0.03)" font-size="12" text-anchor="middle" >CO<tspan font-size="6">2</tspan></text>
<g transform="translate(15.40,568.40) rotate(-90.03)"><text x="0.00" y="0.00" font-size="13" letter-spacing="0.11">Flux (mg m</text><text x="66.50" y="-7.00" font-size="7.8">-2</text><text x="74.90" y="0.00" font-size="13" letter-spacing="0.11">h</text><text x="82.90" y="-7.00" font-size="7.8">-1</text><text x="89.80" y="0.00" font-size="13" letter-spacing="0.11">)</text></g>
<g transform="translate(415.90,581.50) rotate(-90.03)"><text x="0.00" y="0.00" font-size="13" letter-spacing="0.09">CO</text><text x="19.90" y="5.00" font-size="7.5">2</text><text x="24.30" y="0.00" font-size="13" letter-spacing="0.09">-equivenlent flux</text></g>
<g transform="translate(440.10,562.40) rotate(-90.03)"><text x="0.00" y="0.00" font-size="13">(gCO</text><text x="31.40" y="5.00" font-size="7.5">2</text><text x="39.40" y="0.00" font-size="13">m</text><text x="50.20" y="-7.80" font-size="7.8">-2</text><text x="60.20" y="0.00" font-size="13">yr</text><text x="72.10" y="-7.80" font-size="7.8">-1</text><text x="79.60" y="0.00" font-size="13">)</text></g>
<text transform="translate(77.90,561.20) rotate(0.03)" font-size="9.4" text-anchor="middle" class="s">A</text>
<text transform="translate(92.80,561.20) rotate(0.03)" font-size="9.4" text-anchor="middle" class="s">A</text>
<text transform="translate(93.20,573.00) rotate(0.03)" font-size="9.4" text-anchor="middle" class="s">ns</text>
<text transform="translate(109.40,560.40) rotate(0.03)" font-size="9.4" text-anchor="middle" class="s">A</text>
<text transform="translate(136.50,552.80) rotate(0.03)" font-size="9.4" text-anchor="middle" class="s">A</text>
<text transform="translate(137.60,564.30) rotate(0.03)" font-size="9.4" text-anchor="middle" class="s">bc</text>
<text transform="translate(153.00,555.20) rotate(0.03)" font-size="9.4" text-anchor="middle" class="s">B</text>
<text transform="translate(153.00,568.10) rotate(0.03)" font-size="9.4" text-anchor="middle" class="s">ab</text>
<text transform="translate(169.60,562.70) rotate(0.03)" font-size="9.4" text-anchor="middle" class="s">AB</text>
<text transform="translate(169.10,573.30) rotate(0.03)" font-size="9.4" text-anchor="middle" class="s">a</text>
<text transform="translate(196.00,490.30) rotate(0.03)" font-size="9.4" text-anchor="middle" class="s">B</text>
<text transform="translate(196.20,502.30) rotate(0.03)" font-size="9.4" text-anchor="middle" class="s">b</text>
<text transform="translate(211.70,484.60) rotate(0.03)" font-size="9.4" text-anchor="middle" class="s">D</text>
<text transform="translate(212.00,496.70) rotate(0.03)" font-size="9.4" text-anchor="middle" class="s">b</text>
<text transform="translate(228.60,549.50) rotate(0.03)" font-size="9.4" text-anchor="middle" class="s">C</text>
<text transform="translate(228.50,559.40) rotate(0.03)" font-size="9.4" text-anchor="middle" class="s">a</text>
<text transform="translate(255.70,557.50) rotate(0.03)" font-size="9.4" text-anchor="middle" class="s">A</text>
<text transform="translate(255.60,567.40) rotate(0.03)" font-size="9.4" text-anchor="middle" class="s">a</text>
<text transform="translate(271.10,544.90) rotate(0.03)" font-size="9.4" text-anchor="middle" class="s">C</text>
<text transform="translate(271.80,556.00) rotate(0.03)" font-size="9.4" text-anchor="middle" class="s">b</text>
<text transform="translate(287.30,562.70) rotate(0.03)" font-size="9.4" text-anchor="middle" class="s">B</text>
<text transform="translate(287.30,572.50) rotate(0.03)" font-size="9.4" text-anchor="middle" class="s">a</text>
</svg>
</body></html>
